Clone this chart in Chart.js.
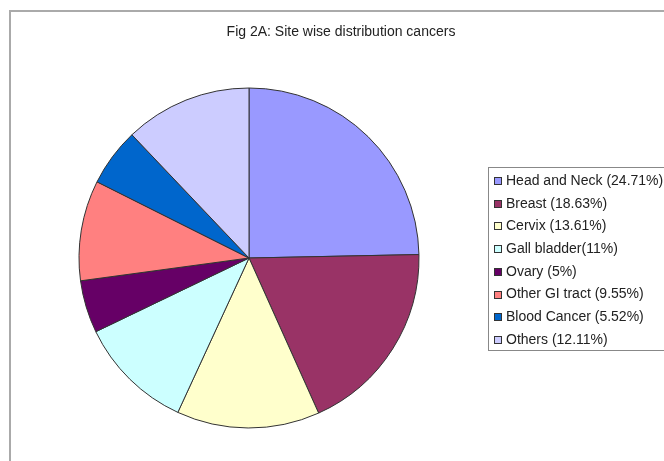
<!DOCTYPE html>
<html>

<head>
    <title>Site wise distribution cancers</title>
    <script src="https://cdn.jsdelivr.net/npm/chart.js"></script>
    <style>
        html, body {
            margin: 0;
            padding: 0;
            background: #ffffff;
        }
        #pieChart {
            display: block;
        }
    </style>
</head>

<body>
    <canvas id="pieChart" width="664" height="461"></canvas>

    <script>
        const sites = [
            'Head and Neck',
            'Breast',
            'Cervix',
            'Gall bladder',
            'Ovary',
            'Other GI tract',
            'Blood Cancer',
            'Others'
        ];
        const percentages = [24.71, 18.63, 13.61, 11, 5, 9.55, 5.52, 12.11];
        const legendLabels = [
            'Head and Neck (24.71%)',
            'Breast (18.63%)',
            'Cervix (13.61%)',
            'Gall bladder(11%)',
            'Ovary (5%)',
            'Other GI tract (9.55%)',
            'Blood Cancer (5.52%)',
            'Others (12.11%)'
        ];
        const sliceColors = [
            '#9999ff',
            '#993366',
            '#ffffcc',
            '#ccffff',
            '#660066',
            '#ff8080',
            '#0066cc',
            '#ccccff'
        ];
        const chartTitle = 'Fig 2A: Site wise distribution cancers';

        const FONT = '14px "Liberation Sans", Arial, sans-serif';

        // white page with the grey frame along the top and left
        const framePlugin = {
            id: 'frame',
            beforeDraw(chart) {
                const ctx = chart.ctx;
                ctx.save();
                ctx.fillStyle = '#ffffff';
                ctx.fillRect(0, 0, chart.width, chart.height);
                ctx.strokeStyle = '#aaaaaa';
                ctx.lineWidth = 2;
                ctx.beginPath();
                ctx.moveTo(chart.width, 11);
                ctx.lineTo(10, 11);
                ctx.lineTo(10, chart.height);
                ctx.stroke();
                ctx.restore();
            }
        };

        // title and boxed legend to the right of the pie
        const labelsPlugin = {
            id: 'labels',
            afterDraw(chart) {
                const ctx = chart.ctx;
                ctx.save();
                ctx.font = FONT;
                ctx.fillStyle = '#222222';
                ctx.textAlign = 'center';
                ctx.textBaseline = 'middle';
                ctx.fillText(chartTitle, 341, 32);

                ctx.strokeStyle = '#888888';
                ctx.lineWidth = 1;
                ctx.strokeRect(488.5, 167.5, 220, 183);

                const colors = chart.data.datasets[0].backgroundColor;
                ctx.textAlign = 'left';
                legendLabels.forEach((text, i) => {
                    const y = 181 + i * 22.7;
                    ctx.fillStyle = colors[i];
                    ctx.fillRect(494, Math.round(y) - 4, 8, 8);
                    ctx.strokeStyle = '#333333';
                    ctx.strokeRect(494.5, Math.round(y) - 3.5, 7, 7);
                    ctx.fillStyle = '#222222';
                    ctx.fillText(text, 506, y);
                });
                ctx.restore();
            }
        };

        new Chart(document.getElementById('pieChart'), {
            type: 'pie',
            data: {
                labels: sites,
                datasets: [{
                    data: percentages,
                    backgroundColor: sliceColors,
                    borderColor: '#333333',
                    borderWidth: 1,
                    radius: 170
                }]
            },
            options: {
                responsive: false,
                animation: false,
                layout: {
                    padding: { left: 78, right: 244, top: 87, bottom: 32 }
                },
                plugins: {
                    legend: { display: false },
                    tooltip: { enabled: false }
                }
            },
            plugins: [framePlugin, labelsPlugin]
        });
    </script>
</body>

</html>
